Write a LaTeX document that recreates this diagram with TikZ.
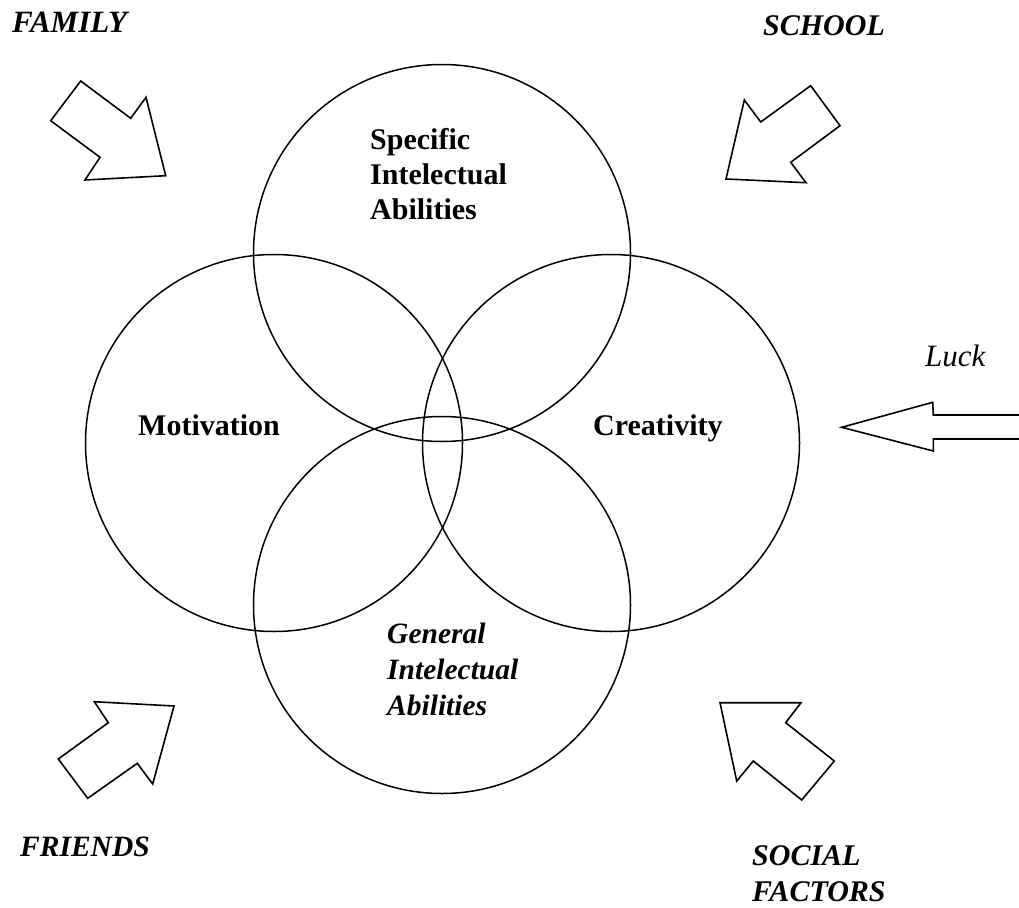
\documentclass[tikz,border=0pt]{standalone}
\usepackage{fontspec}
\setmainfont{Liberation Serif}
\begin{document}
\begin{tikzpicture}[x=1pt,y=-1pt,
  ring/.style={draw,circle,line width=1.5pt,minimum size=377pt,inner sep=0pt},
  blockarrow/.style={draw,line width=1.6pt,line join=miter},
  inlabel/.style={anchor=base west,inner sep=0pt,align=left,font=\bfseries\fontsize{30}{35}\selectfont},
  gen/.style={anchor=base west,inner sep=0pt,align=left,font=\bfseries\itshape\fontsize{29.5}{36}\selectfont},
  outlabel/.style={anchor=base west,inner sep=0pt,align=left,font=\bfseries\itshape\fontsize{30}{36.7}\selectfont}]
\useasboundingbox (0,0) rectangle (1019,907);
% circles
\node[ring] (top) at (442,253) {};
\node[ring] (left) at (274,443) {};
\node[ring] (right) at (611,443) {};
\node[ring] (bottom) at (442,605) {};
% circle labels (multi-line nodes: base = last line)
\node[inlabel] (spec) at (370,219) {Specific\\Intelectual\\Abilities};
\node[inlabel] (moti) at (138,435) {Motivation};
\node[inlabel] (crea) at (593,435) {Creativity};
\node[gen] (gena) at (387,715) {General\\Intelectual\\Abilities};
% outer labels
\node[outlabel,font=\bfseries\itshape\fontsize{31}{36}\selectfont] (family) at (12,33) {FAMILY};
\node[outlabel] (school) at (763,36) {SCHOOL};
\node[anchor=base west,inner sep=0pt,font=\itshape\fontsize{31}{36}\selectfont] (luck) at (925,366.7) {Luck};
\node[outlabel,font=\bfseries\itshape\fontsize{29.5}{36}\selectfont] (friends) at (20,856.7) {FRIENDS};
\node[outlabel] (social) at (752,901.7) {SOCIAL\\FACTORS};
% block arrows
\draw[blockarrow] (50.7,120.7) -- (80.7,81) -- (130.7,118.3) -- (146,97.3) -- (165.7,175.7) -- (85,180) -- (100,157.3) -- cycle;
\draw[blockarrow] (810.7,85.7) -- (840,125.7) -- (790.7,162.3) -- (806,182.7) -- (726,179) -- (744.3,100) -- (760.7,122) -- cycle;
\draw[blockarrow] (1021,415) -- (933.3,415) -- (932.7,402.3) -- (841.7,427.3) -- (933.3,451) -- (933.3,439) -- (1021,439);
\draw[blockarrow] (94.3,701.7) -- (174,706) -- (152.7,784) -- (137.3,763.3) -- (87.7,798.3) -- (58.3,759) -- (108.3,722.7) -- cycle;
\draw[blockarrow] (720,702.7) -- (801,702.7) -- (785.7,722.7) -- (834.3,761) -- (801.7,800) -- (753.3,761) -- (736.7,781) -- cycle;
\end{tikzpicture}
\end{document}
